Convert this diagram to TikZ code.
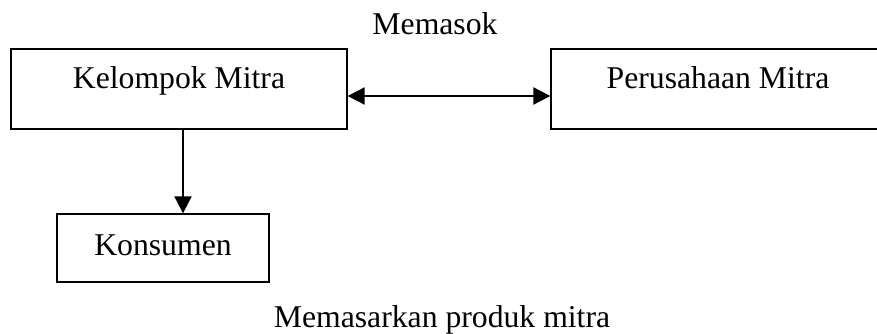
\documentclass[tikz,border=0pt]{standalone}
\usepackage{fontspec}
\setmainfont{Liberation Serif}
\usetikzlibrary{arrows.meta}
\begin{document}
\begin{tikzpicture}[x=1pt,y=-1pt,
  box/.style={draw,line width=1.3pt,inner xsep=0pt,inner ysep=0pt,anchor=base,
    font=\fontsize{31.7}{36}\selectfont},
  lbl/.style={anchor=base,inner sep=0pt,font=\fontsize{31.7}{36}\selectfont},
  link/.style={line width=2pt,-{Triangle[length=17pt,width=17pt]}},
  dlink/.style={line width=2pt,{Triangle[length=17pt,width=17pt]}-{Triangle[length=17pt,width=17pt]}}]
  \useasboundingbox (0,0) rectangle (877,334);
  \node[box,minimum width=336pt,text height=40pt,text depth=40pt] (km) at (179,89) {Kelompok Mitra};
  \node[box,minimum width=334pt,text height=40pt,text depth=40pt] (pm) at (718,89) {Perusahaan Mitra};
  \node[box,minimum width=212pt,text height=41pt,text depth=27pt] (kon) at (163,255) {Konsumen};
  \node[lbl] (supply) at (435,35) {Memasok};
  \node[lbl] (market) at (442,327) {Memasarkan produk mitra};
  \draw[dlink] ([yshift=-7pt]km.east) -- ([yshift=-7pt]pm.west);
  \draw[link] ([xshift=4pt]km.south) -- ([xshift=4pt]km.south |- kon.north);
\end{tikzpicture}
\end{document}
